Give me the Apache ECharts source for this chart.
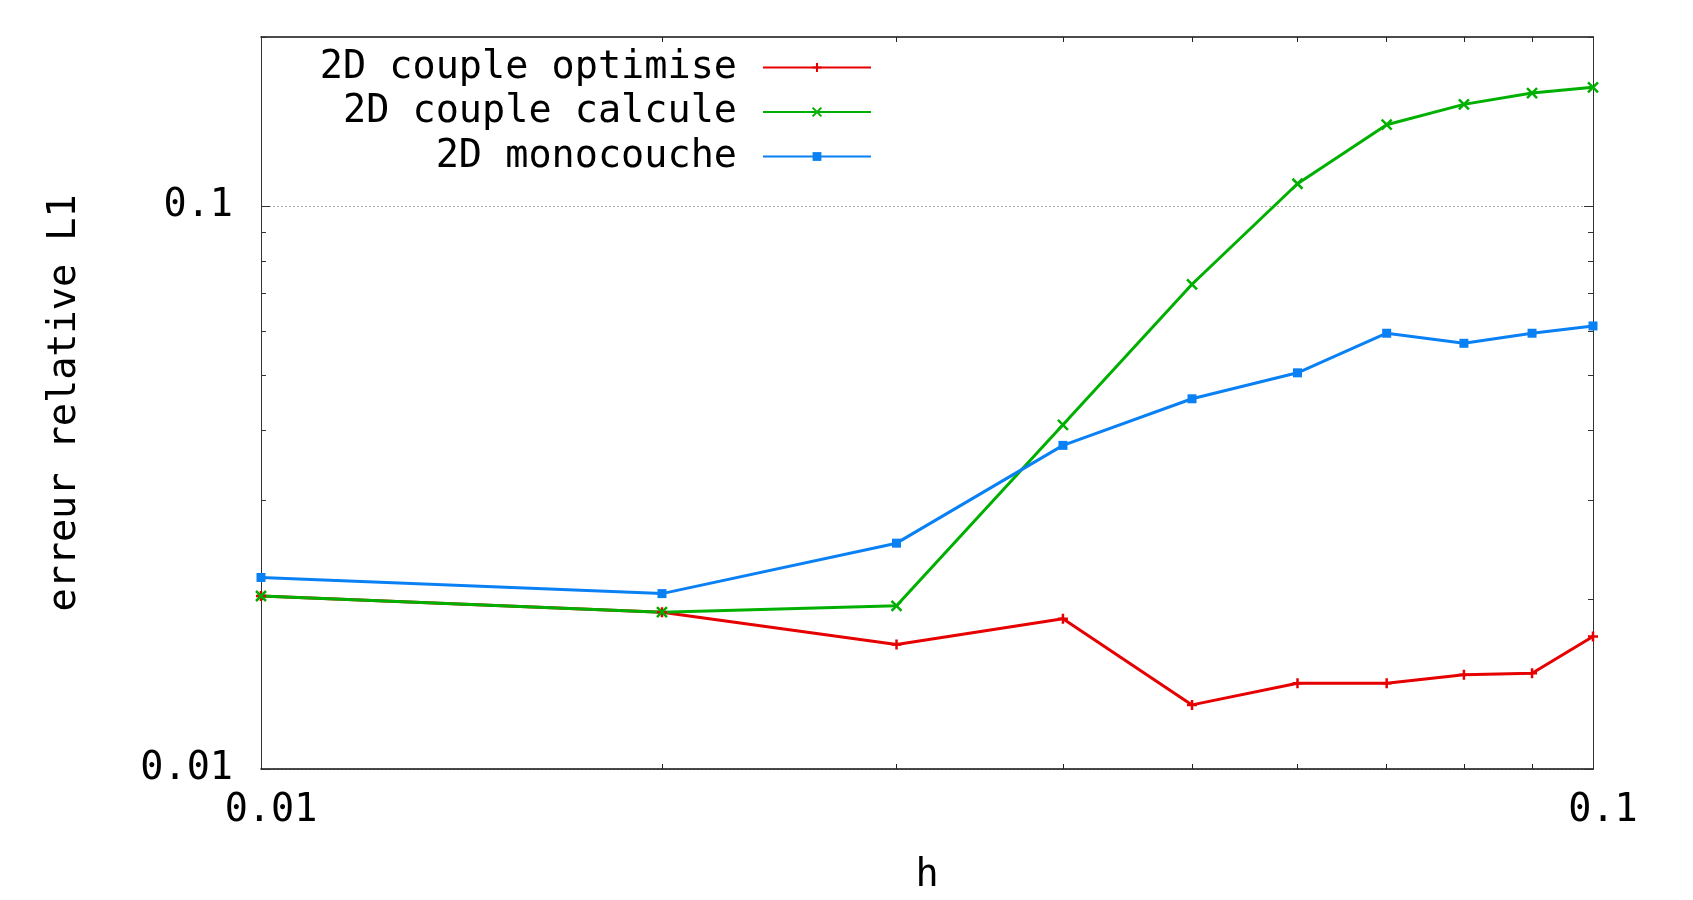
<!DOCTYPE html>
<html>
<head>
<meta charset="utf-8">
<script src="https://cdn.jsdelivr.net/npm/echarts@6/dist/echarts.min.js"></script>
<style>
html,body{margin:0;padding:0;background:#fff;}
#chart{width:1693px;height:900px;}
</style>
</head>
<body>
<div id="chart"></div>
<script>
// ---- data ----
var hValues = [0.01, 0.02, 0.03, 0.04, 0.05, 0.06, 0.07, 0.08, 0.09, 0.1];
var coupleOptimise = [0.0203, 0.0190, 0.01665, 0.0185, 0.0130, 0.0142, 0.0142, 0.0147, 0.0148, 0.0172];
var coupleCalcule = [0.0203, 0.0190, 0.0195, 0.0409, 0.0727, 0.1097, 0.1397, 0.1518, 0.1590, 0.1628];
var monocouche = [0.0219, 0.0205, 0.0252, 0.0376, 0.0455, 0.0506, 0.0595, 0.0571, 0.0595, 0.0613];
var seriesNames = ['2D couple optimise', '2D couple calcule', '2D monocouche'];
var xTickLabels = [0.01, 0.1];
var yTickLabels = [0.01, 0.1];
var xMinorTicks = [0.02, 0.03, 0.04, 0.05, 0.06, 0.07, 0.08, 0.09];
var yMajorTicks = [0.01, 0.1];
var yMinorTicks = [0.02, 0.03, 0.04, 0.05, 0.06, 0.07, 0.08, 0.09, 0.2];

var FONT = 'DejaVu Sans Mono';
var FS = 38.5;
var colors = ['#e60000', '#00b000', '#0a80f5'];
var symbols = [
  'path://M0,5L10,5M5,0L5,10',
  'path://M0,0L10,10M10,0L0,10',
  'rect'
];

function pairs(vals) {
  return hValues.map(function (h, i) { return [h, vals[i]]; });
}

var X_MIN = 0.01, X_MAX = 0.1, Y_MIN = 0.01, Y_MAX = 0.2;

function xAxis(pos, showLabel) {
  return {
    type: 'log', logBase: 10, min: X_MIN, max: X_MAX, position: pos,
    axisLine: { show: true, lineStyle: { color: '#111', width: 1.5 } },
    axisTick: { show: true, inside: true, length: 5, customValues: xMinorTicks, lineStyle: { color: '#222', width: 1 } },
    axisLabel: {
      show: showLabel, customValues: xTickLabels, margin: 22,
      fontFamily: FONT, fontSize: FS, color: '#000', padding: [0, 0, 0, 20],
      formatter: function (v) { return String(+v.toPrecision(6)); }
    },
    splitLine: { show: false }, minorTick: { show: false }, minorSplitLine: { show: false },
    name: showLabel ? 'h' : '', nameLocation: 'middle', nameGap: 87,
    nameTextStyle: { fontFamily: FONT, fontSize: FS, color: '#000' }
  };
}

function yAxis(pos, showLabel, ticks, len, split) {
  return {
    type: 'log', logBase: 10, min: Y_MIN, max: Y_MAX, position: pos,
    axisLine: { show: true, lineStyle: { color: '#333', width: 1 } },
    axisTick: { show: true, inside: true, length: len, customValues: ticks, lineStyle: { color: '#333', width: 1 } },
    axisLabel: {
      show: showLabel, customValues: yTickLabels, margin: 28,
      fontFamily: FONT, fontSize: FS, color: '#000',
      formatter: function (v) { return String(+v.toPrecision(6)); }
    },
    splitLine: { show: split, lineStyle: { color: '#aaa', type: [2, 2], width: 1 } },
    minorTick: { show: false }, minorSplitLine: { show: false },
    name: showLabel ? 'erreur relative L1' : '', nameLocation: 'middle', nameGap: 177,
    nameTextStyle: { fontFamily: FONT, fontSize: FS, color: '#000' }
  };
}

var seriesVals = [coupleOptimise, coupleCalcule, monocouche];
var series = seriesNames.map(function (name, i) {
  return {
    name: name, type: 'line', xAxisIndex: 0, yAxisIndex: 0,
    data: pairs(seriesVals[i]),
    symbol: symbols[i], symbolSize: i === 2 ? 9 : 10,
    showAllSymbol: true,
    lineStyle: { color: colors[i], width: 3 },
    itemStyle: { color: colors[i], borderColor: colors[i], borderWidth: i === 2 ? 0 : 2.5 },
    emphasis: { disabled: true },
    animation: false
  };
});

var chart = echarts.init(document.getElementById('chart'), null, { renderer: 'canvas' });
chart.setOption({
  backgroundColor: '#fff',
  animation: false,
  grid: { left: 261, right: 100, top: 37, bottom: 118, containLabel: false },
  legend: {
    orient: 'vertical', align: 'right', right: 821, top: 48, padding: 0,
    itemWidth: 108, itemHeight: 11, itemGap: 5.5,
    data: seriesNames,
    textStyle: { fontFamily: FONT, fontSize: FS, color: '#000', lineHeight: 38, padding: [0, 21, 0, 0] },
    selectedMode: false
  },
  xAxis: [xAxis('bottom', true), xAxis('top', false)],
  yAxis: [
    yAxis('left', true, yMajorTicks, 9, true),
    yAxis('left', false, yMinorTicks, 5, false),
    yAxis('right', false, yMajorTicks, 9, false),
    yAxis('right', false, yMinorTicks, 5, false)
  ],
  series: series
});
</script>
</body>
</html>
